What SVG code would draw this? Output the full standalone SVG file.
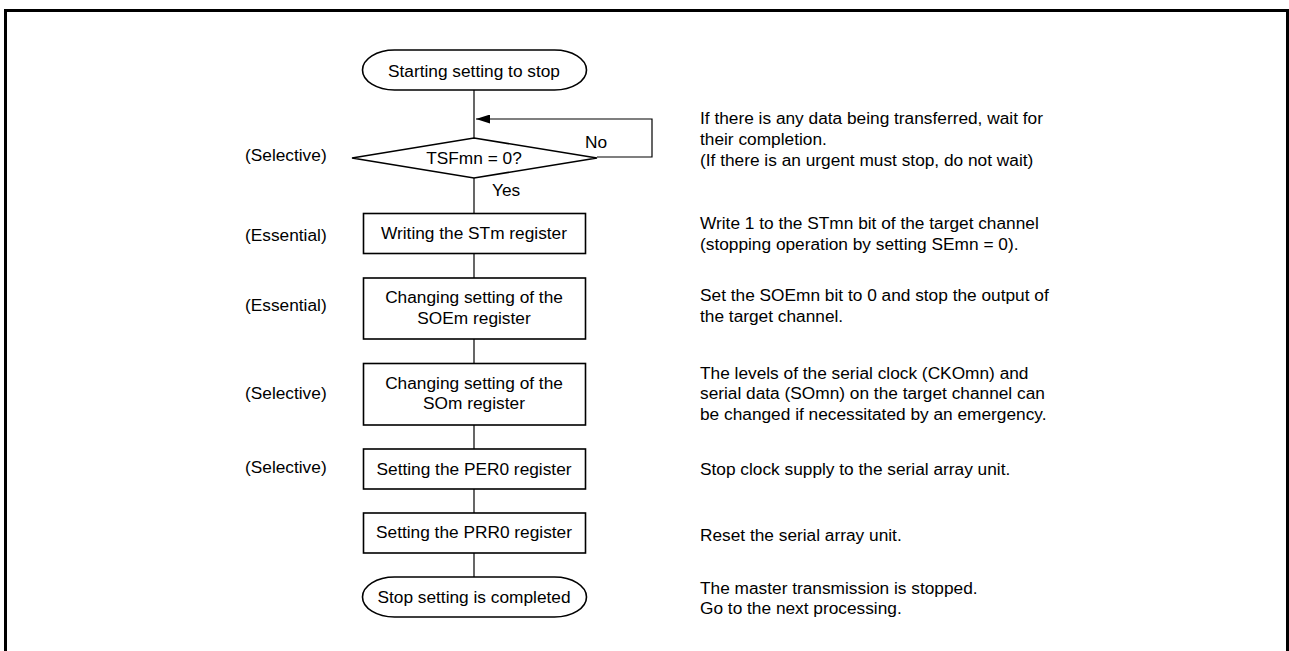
<svg xmlns="http://www.w3.org/2000/svg" width="1289" height="651" viewBox="0 0 1289 651">
<style>
text{font-family:"Liberation Sans",Arial,sans-serif;font-size:17.3px;fill:#000}
.c{text-anchor:middle}
.s{fill:#fff;stroke:#000;stroke-width:1.6}
.l{fill:none;stroke:#000;stroke-width:1.2}
</style>
<defs>
<marker id="ah" viewBox="0 0 14 9" refX="14" refY="4.5" markerWidth="14" markerHeight="9" markerUnits="userSpaceOnUse" orient="auto">
<path d="M0,0 L14,4.5 L0,9 z" fill="#000"/>
</marker>
</defs>
<rect x="5.5" y="10.5" width="1282" height="660" fill="none" stroke="#000" stroke-width="3"/>
<g id="connectors">
<line class="l" x1="474" y1="90" x2="474" y2="138"/>
<polyline class="l" points="597,157 652,157 652,119 476,119" marker-end="url(#ah)"/>
<line class="l" x1="474" y1="178" x2="474" y2="213"/>
<line class="l" x1="474" y1="253" x2="474" y2="278"/>
<line class="l" x1="474" y1="339" x2="474" y2="363"/>
<line class="l" x1="474" y1="425" x2="474" y2="449"/>
<line class="l" x1="474" y1="489" x2="474" y2="513"/>
<line class="l" x1="474" y1="553" x2="474" y2="577"/>
<text x="585" y="148">No</text>
<text x="492" y="196">Yes</text>
</g>
<g id="start">
<rect class="s" x="362.5" y="50" width="224" height="40" rx="32" ry="20"/>
<text class="c" x="474" y="77">Starting setting to stop</text>
</g>
<g id="decision">
<polygon class="s" points="474,138 597,158 474,178 352,158"/>
<text class="c" x="474" y="164">TSFmn = 0?</text>
</g>
<g id="box1">
<rect class="s" x="363.5" y="213.5" width="222" height="40"/>
<text class="c" x="474" y="239">Writing the STm register</text>
</g>
<g id="box2">
<rect class="s" x="363.5" y="278" width="222" height="61"/>
<text class="c" x="474" y="303">Changing setting of the</text>
<text class="c" x="474" y="324">SOEm register</text>
</g>
<g id="box3">
<rect class="s" x="363.5" y="363.5" width="222" height="61.5"/>
<text class="c" x="474" y="389">Changing setting of the</text>
<text class="c" x="474" y="409">SOm register</text>
</g>
<g id="box4">
<rect class="s" x="363.5" y="449" width="222" height="40"/>
<text class="c" x="474" y="475">Setting the PER0 register</text>
</g>
<g id="box5">
<rect class="s" x="363.5" y="513" width="222" height="40"/>
<text class="c" x="474" y="538">Setting the PRR0 register</text>
</g>
<g id="end">
<rect class="s" x="362.5" y="577" width="224" height="40" rx="32" ry="20"/>
<text class="c" x="474" y="603">Stop setting is completed</text>
</g>
<g id="labels">
<text x="245" y="161">(Selective)</text>
<text x="245" y="241">(Essential)</text>
<text x="245" y="311">(Essential)</text>
<text x="245" y="399">(Selective)</text>
<text x="245" y="473">(Selective)</text>
</g>
<g id="notes">
<text x="700" y="124">If there is any data being transferred, wait for</text>
<text x="700" y="145">their completion.</text>
<text x="700" y="166">(If there is an urgent must stop, do not wait)</text>
<text x="700" y="229">Write 1 to the STmn bit of the target channel</text>
<text x="700" y="250">(stopping operation by setting SEmn = 0).</text>
<text x="700" y="301">Set the SOEmn bit to 0 and stop the output of</text>
<text x="700" y="322">the target channel.</text>
<text x="700" y="379">The levels of the serial clock (CKOmn) and</text>
<text x="700" y="399">serial data (SOmn) on the target channel can</text>
<text x="700" y="420">be changed if necessitated by an emergency.</text>
<text x="700" y="475">Stop clock supply to the serial array unit.</text>
<text x="700" y="541">Reset the serial array unit.</text>
<text x="700" y="594">The master transmission is stopped.</text>
<text x="700" y="614">Go to the next processing.</text>
</g>
</svg>
